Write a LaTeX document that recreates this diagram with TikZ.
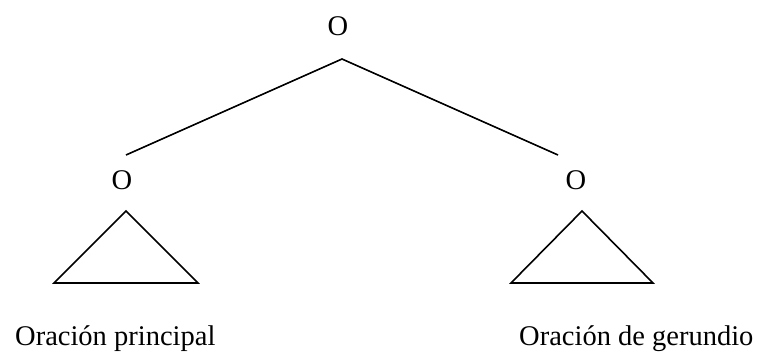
\documentclass[tikz,border=0pt]{standalone}
\usepackage{fontspec}
\setmainfont{Liberation Serif}
\tikzset{
  lbl/.style={inner sep=0pt, anchor=base, font=\fontsize{28.5}{34}\selectfont},
  captext/.style={inner sep=0pt, anchor=base west, font=\fontsize{28.5}{34}\selectfont},
  connector/.style={line width=1.6pt},
  tri/.style={line width=1.6pt, line join=miter}
}
\begin{document}
\begin{tikzpicture}[x=1pt,y=-1pt]
\useasboundingbox (0,0) rectangle (760,351);
\node[lbl] (top) at (338,35) {O};
\node[lbl] (left) at (122,189) {O};
\node[lbl] (right) at (576,189) {O};
\coordinate (apex) at (342,59);
\coordinate (lend) at (126,155);
\coordinate (rend) at (558,155);
\draw[connector] (lend) -- (apex) -- (rend);
\coordinate (lt) at (126,211);
\coordinate (lbl1) at (54,283);
\coordinate (lbr) at (198,283);
\coordinate (rt) at (582,211);
\coordinate (rbl) at (511,283);
\coordinate (rbr) at (653,283);
\draw[tri] (lt) -- (lbr) -- (lbl1) -- cycle;
\draw[tri] (rt) -- (rbr) -- (rbl) -- cycle;
\node[captext] (main) at (15,345) {Oración principal};
\node[captext] (ger) at (519,345) {Oración de gerundio};
\end{tikzpicture}
\end{document}
